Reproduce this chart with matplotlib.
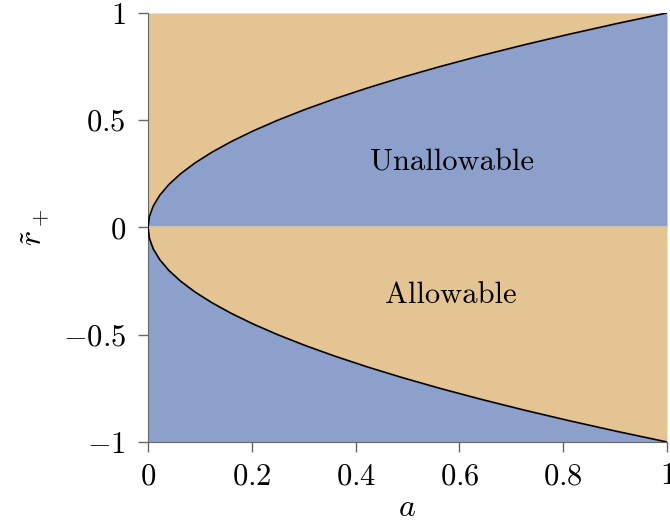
import matplotlib
matplotlib.use("Agg")
import matplotlib.pyplot as plt

plt.rcParams['font.family'] = 'serif'
plt.rcParams['font.serif'] = ['cmr10']
plt.rcParams['mathtext.fontset'] = 'cm'
plt.rcParams['axes.unicode_minus'] = False

# boundary of the allowed region, points along r = +/- sqrt(a)
a_vals = [0, 0.0025, 0.01, 0.0225, 0.04, 0.0625, 0.09, 0.1225, 0.16, 0.2025,
          0.25, 0.3025, 0.36, 0.4225, 0.49, 0.5625, 0.64, 0.7225, 0.81, 0.9025, 1.0]
r_upper = [0, 0.05, 0.1, 0.15, 0.2, 0.25, 0.3, 0.35, 0.4, 0.45,
           0.5, 0.55, 0.6, 0.65, 0.7, 0.75, 0.8, 0.85, 0.9, 0.95, 1.0]
r_lower = [0, -0.05, -0.1, -0.15, -0.2, -0.25, -0.3, -0.35, -0.4, -0.45,
           -0.5, -0.55, -0.6, -0.65, -0.7, -0.75, -0.8, -0.85, -0.9, -0.95, -1.0]

x_ticks = [0, 0.2, 0.4, 0.6, 0.8, 1]
x_labels = ['$0$', '$0.2$', '$0.4$', '$0.6$', '$0.8$', '$1$']
y_ticks = [-1, -0.5, 0, 0.5, 1]
y_labels = ['$-1$', '$-0.5$', '$0$', '$0.5$', '$1$']

blue = '#8da0cb'
tan = '#e5c494'

fig = plt.figure(figsize=(6.7, 5.29), dpi=100)
ax = fig.add_axes([0.221, 0.1645, 0.7745, 0.811])

ax.fill_between(a_vals, r_upper, 1, color=tan, lw=0)
ax.fill_between(a_vals, 0, r_upper, color=blue, lw=0)
ax.fill_between(a_vals, r_lower, 0, color=tan, lw=0)
ax.fill_between(a_vals, -1, r_lower, color=blue, lw=0)
ax.axhline(0, color='#ddc9a6', lw=1.2, zorder=2)

ax.plot(a_vals, r_upper, color='black', lw=1.2, zorder=3)
ax.plot(a_vals, r_lower, color='black', lw=1.2, zorder=3)

ax.text(0.586, 0.30, 'Unallowable', fontsize=22, ha='center', va='center')
ax.text(0.584, -0.315, 'Allowable', fontsize=22, ha='center', va='center')

ax.set_xlim(0, 1)
ax.set_ylim(-1, 1)
ax.set_xticks(x_ticks)
ax.set_xticklabels(x_labels)
ax.set_yticks(y_ticks)
ax.set_yticklabels(y_labels)
ax.tick_params(labelsize=22, color='#666666', length=7, width=1, direction='out')
ax.tick_params(axis='y', pad=9)
ax.tick_params(axis='x', pad=8)
ax.set_xlabel('$a$', fontsize=23, labelpad=3)
ax.set_ylabel(r'$\tilde{r}_+$', fontsize=23, labelpad=8)

for side in ['top', 'right']:
    ax.spines[side].set_visible(False)
for side in ['left', 'bottom']:
    ax.spines[side].set_color('#666666')
    ax.spines[side].set_linewidth(0.8)

fig.savefig('out.png', dpi=100)
